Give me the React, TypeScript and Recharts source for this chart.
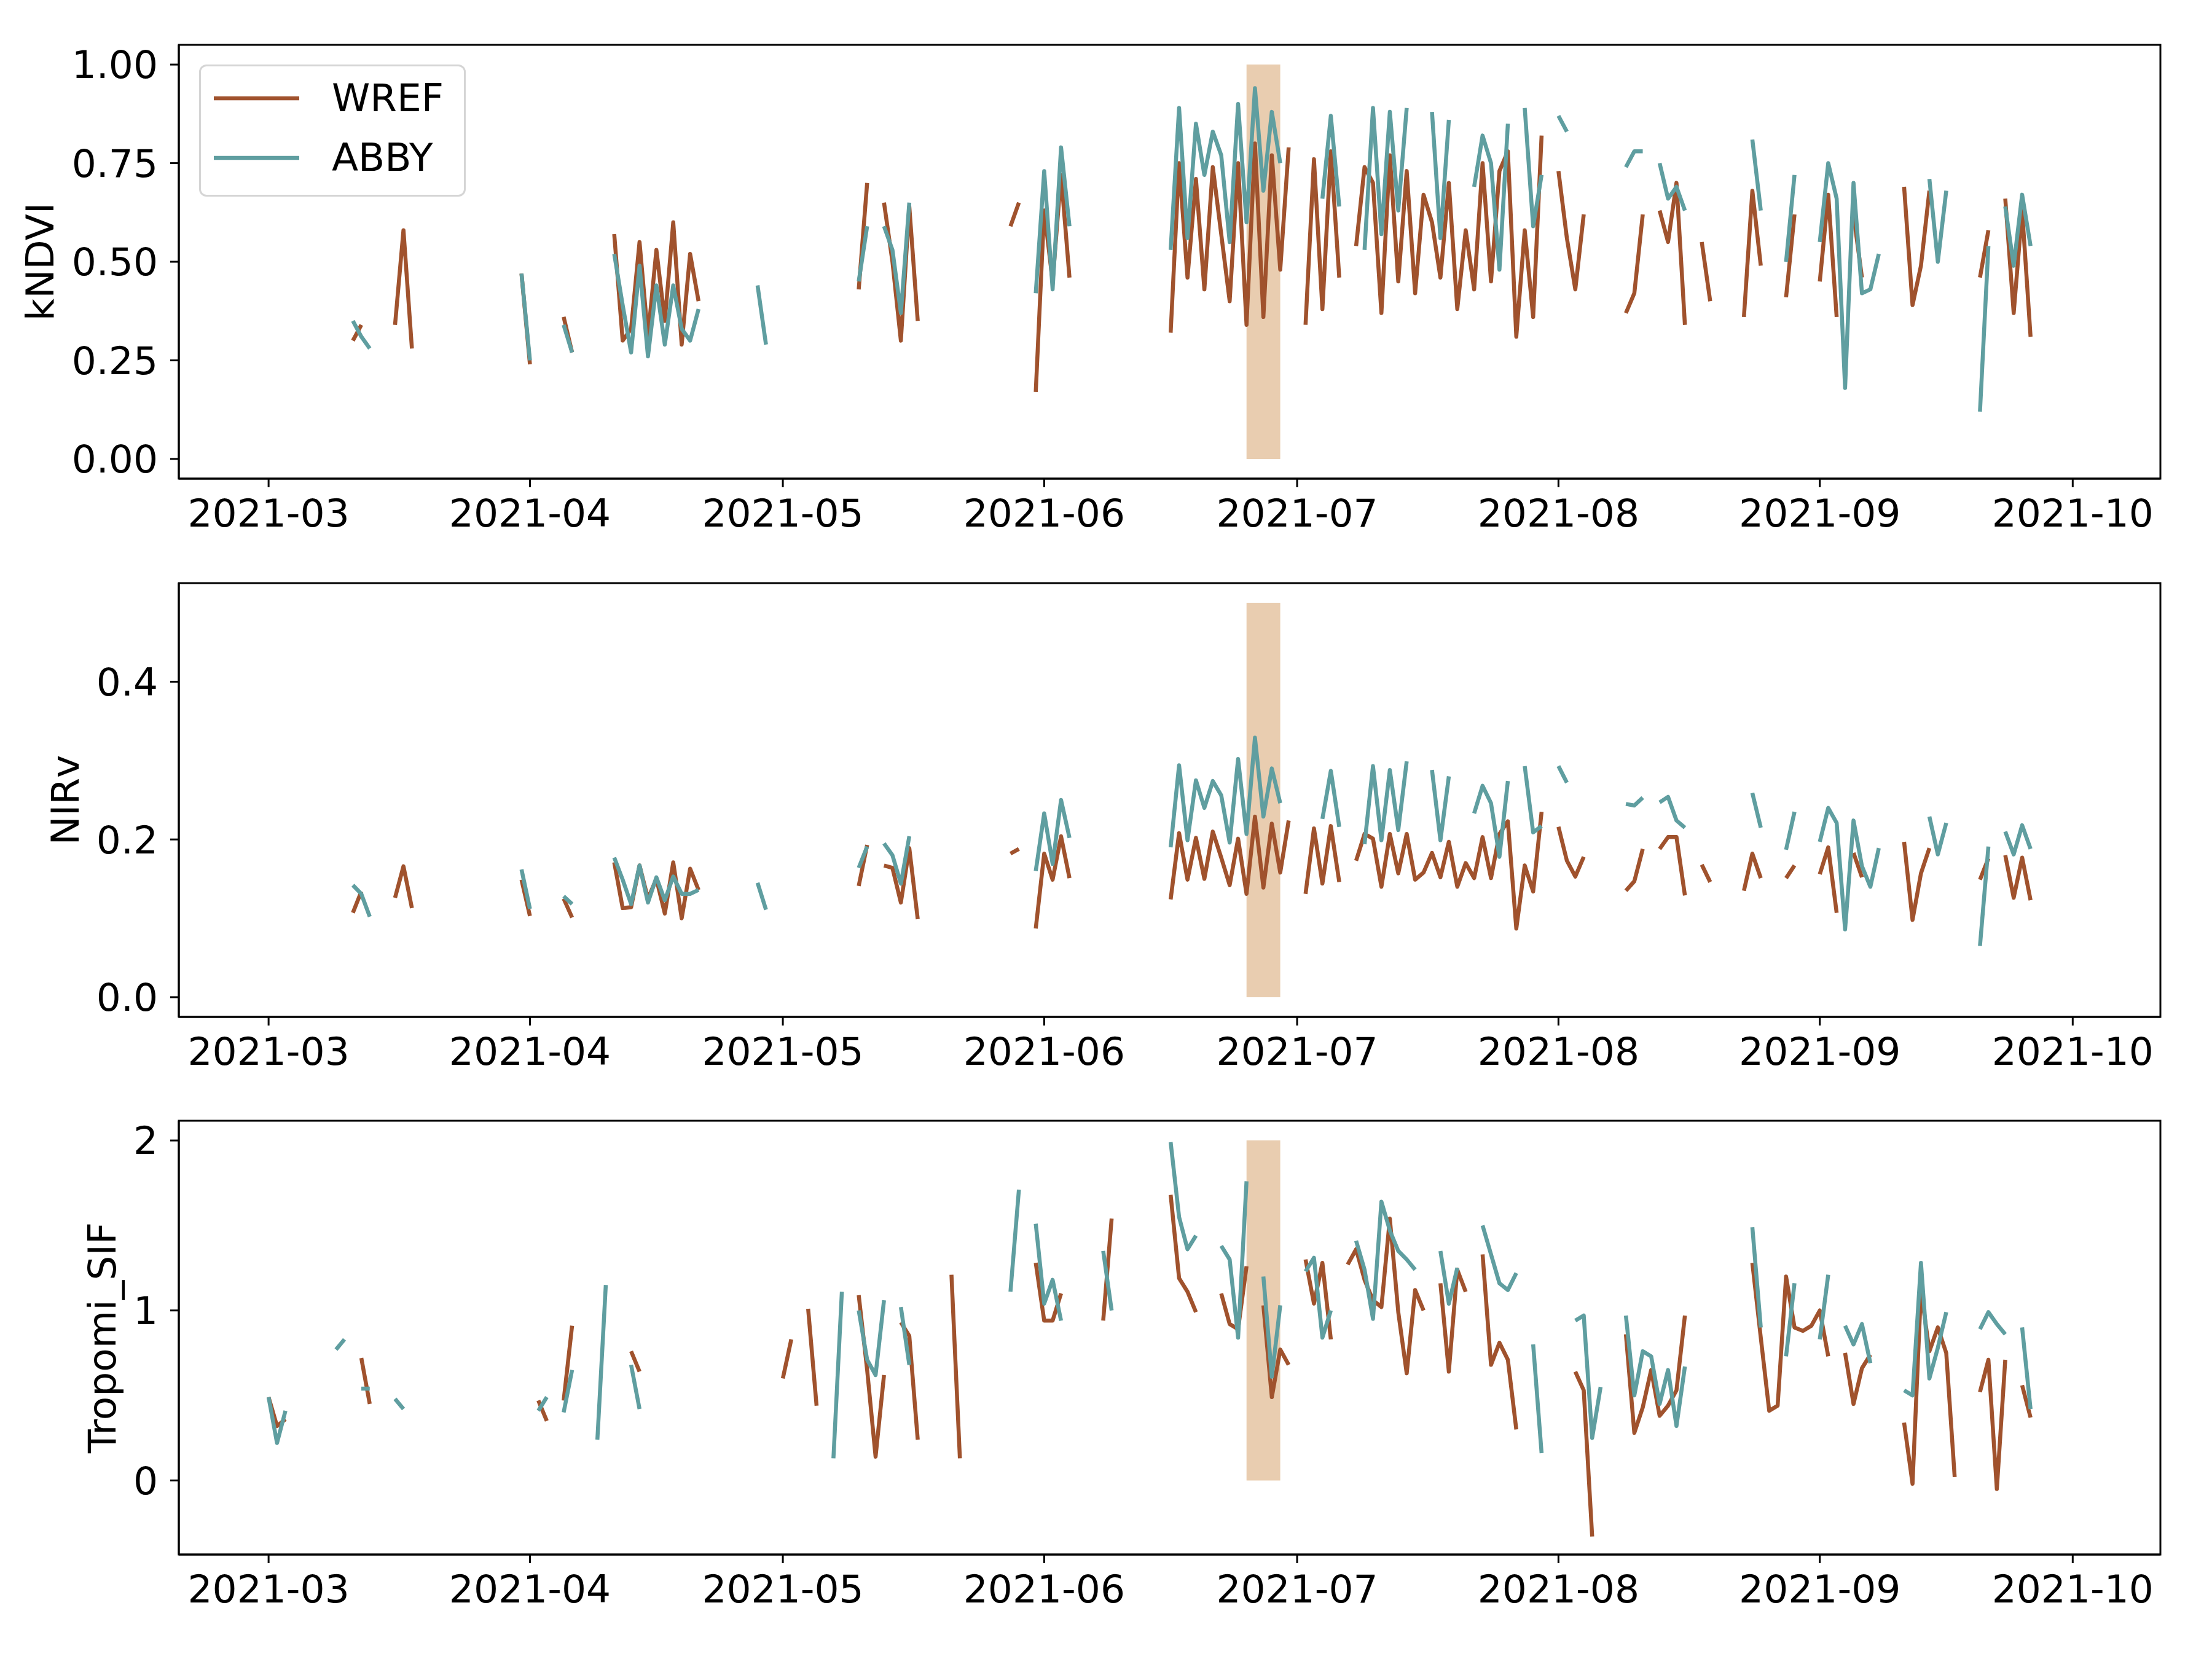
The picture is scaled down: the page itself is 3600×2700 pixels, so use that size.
import React from 'react'
import {
  LineChart,
  Line,
  XAxis,
  YAxis,
  ReferenceArea,
  Legend,
} from 'recharts'

// day index 0 = 2021-03-01, last index 214 = 2021-10-01
const DAY_COUNT = 215
const TICK_DAYS = [0, 31, 61, 92, 122, 153, 184, 214]
const TICK_LABELS = ['2021-03', '2021-04', '2021-05', '2021-06', '2021-07', '2021-08', '2021-09', '2021-10']
const SHADE_DAYS = [116, 120] // 2021-06-25 .. 2021-06-29
const SERIES_NAMES = ['WREF', 'ABBY']

// runs of consecutive daily values: [first day index, values]
type Run = [number, number[]]

const KNDVI_WREF: Run[] = [
  [10, [0.30, 0.34]],
  [15, [0.34, 0.58, 0.28]],
  [30, [0.47, 0.24]],
  [35, [0.36, 0.27]],
  [41, [0.57, 0.30, 0.33, 0.55, 0.31, 0.53, 0.35, 0.60, 0.29, 0.52, 0.40]],
  [70, [0.43, 0.70]],
  [73, [0.65, 0.50, 0.30, 0.64, 0.35]],
  [88, [0.59, 0.65]],
  [91, [0.17, 0.63, 0.45, 0.72, 0.46]],
  [107, [0.32, 0.75, 0.46, 0.71, 0.43, 0.74, 0.57, 0.40, 0.75, 0.34, 0.80, 0.36, 0.77, 0.48, 0.79]],
  [123, [0.34, 0.76, 0.38, 0.78, 0.46]],
  [129, [0.54, 0.74, 0.70, 0.37, 0.77, 0.45, 0.73, 0.42, 0.67, 0.60, 0.46, 0.70, 0.38, 0.58, 0.43, 0.75, 0.45, 0.73, 0.78, 0.31, 0.58, 0.36, 0.82]],
  [153, [0.73, 0.56, 0.43, 0.62]],
  [161, [0.37, 0.42, 0.62]],
  [165, [0.63, 0.55, 0.70, 0.34]],
  [170, [0.55, 0.40]],
  [175, [0.36, 0.68, 0.49]],
  [180, [0.41, 0.62]],
  [184, [0.45, 0.67, 0.36]],
  [188, [0.62, 0.46]],
  [194, [0.69, 0.39, 0.49, 0.68]],
  [203, [0.46, 0.58]],
  [206, [0.66, 0.37, 0.63, 0.31]],
]

const KNDVI_ABBY: Run[] = [
  [10, [0.35, 0.31, 0.28]],
  [30, [0.47, 0.25]],
  [35, [0.34, 0.27]],
  [41, [0.52, 0.39, 0.27, 0.49, 0.26, 0.44, 0.29, 0.44, 0.33, 0.30, 0.38]],
  [58, [0.44, 0.29]],
  [70, [0.45, 0.59]],
  [73, [0.59, 0.53, 0.37, 0.65]],
  [91, [0.42, 0.73, 0.43, 0.79, 0.59]],
  [107, [0.53, 0.89, 0.56, 0.85, 0.72, 0.83, 0.77, 0.55, 0.90, 0.60, 0.94, 0.68, 0.88, 0.75]],
  [125, [0.66, 0.87, 0.64]],
  [130, [0.53, 0.89, 0.57, 0.88, 0.63, 0.89]],
  [138, [0.88, 0.56, 0.86]],
  [143, [0.69, 0.82, 0.75, 0.48, 0.85]],
  [149, [0.89, 0.59, 0.72]],
  [153, [0.87, 0.83]],
  [161, [0.74, 0.78, 0.78]],
  [165, [0.75, 0.66, 0.69, 0.63]],
  [176, [0.81, 0.63]],
  [180, [0.50, 0.72]],
  [184, [0.55, 0.75, 0.66, 0.18, 0.70, 0.42, 0.43, 0.52]],
  [197, [0.71, 0.50, 0.68]],
  [203, [0.12, 0.54]],
  [206, [0.64, 0.49, 0.67, 0.54]],
]

const NIRV_WREF: Run[] = [
  [10, [0.107, 0.134]],
  [15, [0.126, 0.166, 0.113]],
  [30, [0.149, 0.103]],
  [35, [0.125, 0.101]],
  [41, [0.171, 0.113, 0.114, 0.167, 0.125, 0.150, 0.106, 0.171, 0.100, 0.163, 0.136]],
  [70, [0.141, 0.193]],
  [73, [0.167, 0.164, 0.120, 0.189, 0.099]],
  [88, [0.182, 0.188]],
  [91, [0.087, 0.182, 0.149, 0.204, 0.151]],
  [107, [0.124, 0.208, 0.149, 0.202, 0.150, 0.210, 0.177, 0.142, 0.201, 0.131, 0.229, 0.139, 0.220, 0.158, 0.224]],
  [123, [0.131, 0.214, 0.144, 0.217, 0.146]],
  [129, [0.173, 0.207, 0.201, 0.140, 0.207, 0.157, 0.207, 0.149, 0.158, 0.183, 0.152, 0.197, 0.140, 0.170, 0.151, 0.203, 0.151, 0.207, 0.223, 0.087, 0.167, 0.134, 0.235]],
  [153, [0.216, 0.173, 0.153, 0.178]],
  [161, [0.135, 0.147, 0.188]],
  [165, [0.188, 0.203, 0.203, 0.129]],
  [170, [0.168, 0.146]],
  [175, [0.135, 0.182, 0.151]],
  [180, [0.151, 0.167]],
  [184, [0.156, 0.190, 0.107]],
  [188, [0.183, 0.152]],
  [194, [0.197, 0.098, 0.157, 0.189]],
  [203, [0.149, 0.176]],
  [206, [0.180, 0.126, 0.177, 0.123]],
]

const NIRV_ABBY: Run[] = [
  [10, [0.142, 0.131, 0.102]],
  [30, [0.162, 0.112]],
  [35, [0.128, 0.118]],
  [41, [0.177, 0.149, 0.118, 0.167, 0.120, 0.152, 0.123, 0.153, 0.131, 0.131, 0.136]],
  [58, [0.145, 0.111]],
  [70, [0.164, 0.191]],
  [73, [0.195, 0.180, 0.144, 0.204]],
  [91, [0.160, 0.233, 0.169, 0.250, 0.202]],
  [107, [0.190, 0.294, 0.199, 0.275, 0.240, 0.274, 0.256, 0.196, 0.302, 0.207, 0.329, 0.229, 0.290, 0.246]],
  [125, [0.226, 0.287, 0.216]],
  [130, [0.194, 0.293, 0.199, 0.288, 0.212, 0.299]],
  [138, [0.288, 0.199, 0.280]],
  [143, [0.233, 0.268, 0.246, 0.178, 0.274]],
  [149, [0.293, 0.209, 0.217]],
  [153, [0.293, 0.272]],
  [161, [0.245, 0.243, 0.253]],
  [165, [0.247, 0.254, 0.224, 0.215]],
  [176, [0.259, 0.215]],
  [180, [0.187, 0.235]],
  [184, [0.197, 0.240, 0.221, 0.086, 0.224, 0.166, 0.140, 0.189]],
  [197, [0.229, 0.181, 0.221]],
  [203, [0.065, 0.191]],
  [206, [0.210, 0.181, 0.218, 0.188]],
]

const SIF_WREF: Run[] = [
  [0, [0.49, 0.32, 0.36]],
  [11, [0.72, 0.45]],
  [32, [0.47, 0.35]],
  [35, [0.47, 0.91]],
  [43, [0.76, 0.64]],
  [61, [0.60, 0.83]],
  [64, [1.01, 0.44]],
  [70, [1.09, 0.65, 0.14, 0.62]],
  [75, [0.93, 0.85, 0.24]],
  [81, [1.21, 0.13]],
  [91, [1.28, 0.94, 0.94, 1.10]],
  [99, [0.94, 1.54]],
  [107, [1.68, 1.19, 1.11, 0.99]],
  [113, [1.10, 0.92, 0.89, 1.26]],
  [118, [1.03, 0.49, 0.77, 0.68]],
  [123, [1.30, 1.04, 1.28, 0.83]],
  [128, [1.27, 1.36, 1.18, 1.06, 1.02, 1.54, 0.99, 0.63, 1.12, 1.00]],
  [139, [1.16, 0.64, 1.24, 1.11]],
  [144, [1.33, 0.68, 0.81, 0.71, 0.30]],
  [155, [0.64, 0.53, -0.33]],
  [161, [0.86, 0.28, 0.43, 0.65, 0.38, 0.44, 0.53, 0.97]],
  [176, [1.28, 0.84, 0.41, 0.44, 1.20, 0.90, 0.88, 0.91, 1.00, 0.73]],
  [187, [0.75, 0.45, 0.66, 0.74]],
  [194, [0.34, -0.02, 1.12, 0.76, 0.90, 0.75, 0.02]],
  [203, [0.52, 0.71, -0.05, 0.71]],
  [208, [0.56, 0.37]],
]

const SIF_ABBY: Run[] = [
  [0, [0.49, 0.22, 0.41]],
  [8, [0.77, 0.83]],
  [11, [0.54, 0.54]],
  [15, [0.48, 0.42]],
  [32, [0.41, 0.49]],
  [35, [0.40, 0.65]],
  [39, [0.24, 1.15]],
  [43, [0.68, 0.42]],
  [67, [0.13, 1.11]],
  [70, [1.00, 0.71, 0.62, 1.06]],
  [75, [1.02, 0.68]],
  [88, [1.11, 1.71]],
  [91, [1.51, 1.04, 1.18, 0.94]],
  [99, [1.35, 1.00]],
  [107, [1.99, 1.55, 1.36, 1.44]],
  [113, [1.38, 1.30, 0.84, 1.76]],
  [118, [1.20, 0.61, 1.03]],
  [123, [1.23, 1.31, 0.84, 1.00]],
  [129, [1.41, 1.24, 0.95, 1.64, 1.47, 1.35, 1.30, 1.24]],
  [139, [1.35, 1.04, 1.25]],
  [144, [1.50, 1.33, 1.16, 1.12, 1.22]],
  [150, [0.80, 0.16]],
  [155, [0.94, 0.97, 0.25, 0.55]],
  [161, [0.97, 0.50, 0.76, 0.73, 0.45, 0.65, 0.32, 0.67]],
  [176, [1.49, 0.90]],
  [180, [0.73, 1.16]],
  [184, [0.83, 1.21]],
  [187, [0.91, 0.80, 0.92, 0.69]],
  [194, [0.53, 0.50, 1.28, 0.60, 0.78, 0.99]],
  [203, [0.89, 0.99, 0.92, 0.86]],
  [208, [0.90, 0.42]],
]

const WREF_COLOR = '#a0522d'
const ABBY_COLOR = '#5f9ea0'
const SHADE_COLOR = '#e9cdb0'
const FONT = '"DejaVu Sans", sans-serif'
const FS = 63
const LINE_W = 6.5
const X_DOMAIN: [number, number] = [-10.65, 224.4]
const PANEL_H = 876

function lookup(runs: Run[]) {
  const m = new Map<number, number>()
  runs.forEach(([start, vals]) => vals.forEach((v, i) => m.set(start + i, v)))
  return m
}

function buildRows(wref: Run[], abby: Run[]) {
  const w = lookup(wref)
  const a = lookup(abby)
  const rows = []
  for (let d = 0; d < DAY_COUNT; d++) {
    rows.push({ day: d, wref: w.has(d) ? w.get(d) : null, abby: a.has(d) ? a.get(d) : null })
  }
  return rows
}

function LegendBox({ payload }: any) {
  const items = [...(payload || [])].sort(
    (a: any, b: any) => SERIES_NAMES.indexOf(a.value) - SERIES_NAMES.indexOf(b.value)
  )
  return (
    <div
      style={{
        width: 434,
        height: 215,
        boxSizing: 'border-box',
        border: '3px solid #d5d5d5',
        borderRadius: 12,
        background: 'rgba(255,255,255,0.8)',
        paddingTop: 3,
        fontFamily: FONT,
        fontSize: FS,
      }}
    >
      {items.map((p: any) => (
        <div key={p.value} style={{ display: 'flex', alignItems: 'center', height: 97 }}>
          <svg width={139} height={12} style={{ marginLeft: 21, marginRight: 53 }}>
            <line x1={0} y1={6} x2={139} y2={6} stroke={p.color} strokeWidth={LINE_W} />
          </svg>
          <span style={{ lineHeight: 1 }}>{p.value}</span>
        </div>
      ))}
    </div>
  )
}

interface PanelProps {
  top: number
  rows: any[]
  yDomain: [number, number]
  yTicks: number[]
  digits: number
  yLabel: string
  labelX: number
  shadeTop: number
  legend?: boolean
}

function Panel({ top, rows, yDomain, yTicks, digits, yLabel, labelX, shadeTop, legend }: PanelProps) {
  const tickStyle = { fill: '#000', fontSize: FS, fontFamily: FONT }
  return (
    <div style={{ position: 'absolute', left: 0, top, width: 3600, height: PANEL_H }}>
      <LineChart width={3600} height={PANEL_H} data={rows} margin={{ top: 73, right: 84, left: 0, bottom: 0 }}>
        <XAxis
          dataKey="day"
          type="number"
          domain={X_DOMAIN}
          allowDataOverflow
          ticks={TICK_DAYS}
          interval={0}
          tickFormatter={(d: number) => TICK_LABELS[TICK_DAYS.indexOf(d)]}
          height={97}
          tickSize={14}
          tickMargin={19}
          stroke="#000"
          strokeWidth={3}
          tick={tickStyle}
        />
        <YAxis
          type="number"
          domain={yDomain}
          allowDataOverflow
          ticks={yTicks}
          interval={0}
          tickFormatter={(v: number) => v.toFixed(digits)}
          width={291}
          tickSize={14}
          tickMargin={20}
          stroke="#000"
          strokeWidth={3}
          tick={tickStyle}
          label={{
            content: (p: any) => {
              const vb = p.viewBox || {}
              const cy = vb.y + vb.height / 2
              return (
                <text
                  x={labelX}
                  y={cy}
                  transform={`rotate(-90, ${labelX}, ${cy})`}
                  textAnchor="middle"
                  dominantBaseline="central"
                  fontSize={FS}
                  fontFamily={FONT}
                  fill="#000"
                >
                  {yLabel}
                </text>
              )
            },
          }}
        />
        <ReferenceArea
          x1={SHADE_DAYS[0]}
          x2={SHADE_DAYS[1]}
          y1={0}
          y2={shadeTop}
          fill={SHADE_COLOR}
          fillOpacity={1}
          stroke="none"
        />
        {/* axes frame (top and right spines) */}
        <ReferenceArea
          x1={X_DOMAIN[0]}
          x2={X_DOMAIN[1]}
          y1={yDomain[0]}
          y2={yDomain[1]}
          fill="none"
          stroke="#000"
          strokeWidth={3}
          ifOverflow="visible"
        />
        <Line
          dataKey="wref"
          name="WREF"
          stroke={WREF_COLOR}
          strokeWidth={LINE_W}
          strokeLinejoin="round"
          dot={false}
          connectNulls={false}
          isAnimationActive={false}
        />
        <Line
          dataKey="abby"
          name="ABBY"
          stroke={ABBY_COLOR}
          strokeWidth={LINE_W}
          strokeLinejoin="round"
          dot={false}
          connectNulls={false}
          isAnimationActive={false}
        />
        {legend && (
          <Legend
            layout="vertical"
            align="center"
            verticalAlign="middle"
            content={<LegendBox />}
            wrapperStyle={{ left: 324, top: 105, width: 434, height: 215 }}
          />
        )}
      </LineChart>
    </div>
  )
}

export default function App() {
  return (
    <div style={{ position: 'absolute', left: 0, top: 0, width: 3600, height: 2700, background: '#fff' }}>
      <Panel
        top={0}
        rows={buildRows(KNDVI_WREF, KNDVI_ABBY)}
        yDomain={[-0.05, 1.05]}
        yTicks={[0, 0.25, 0.5, 0.75, 1]}
        digits={2}
        yLabel="kNDVI"
        labelX={65}
        shadeTop={1}
        legend
      />
      <Panel
        top={876}
        rows={buildRows(NIRV_WREF, NIRV_ABBY)}
        yDomain={[-0.025, 0.525]}
        yTicks={[0, 0.2, 0.4]}
        digits={1}
        yLabel="NIRv"
        labelX={106}
        shadeTop={0.5}
      />
      <Panel
        top={1751}
        rows={buildRows(SIF_WREF, SIF_ABBY)}
        yDomain={[-0.436, 2.116]}
        yTicks={[0, 1, 2]}
        digits={0}
        yLabel="Tropomi_SIF"
        labelX={166}
        shadeTop={2}
      />
    </div>
  )
}
